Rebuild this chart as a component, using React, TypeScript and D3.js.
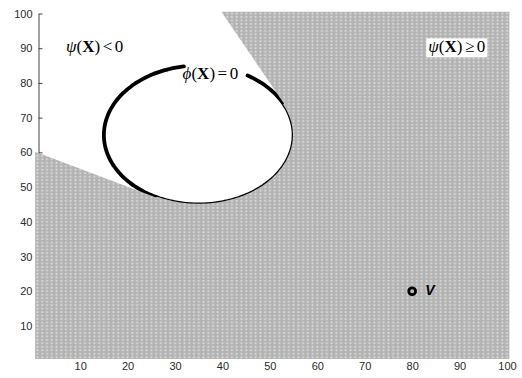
import { useEffect, useRef } from 'react'
import * as d3 from 'd3'

// Axis ticks (MATLAB style, tight [1,100] box)
const X_TICKS = [10, 20, 30, 40, 50, 60, 70, 80, 90, 100]
const Y_TICKS = [10, 20, 30, 40, 50, 60, 70, 80, 90, 100]

// Circular obstacle (phi(X) = 0) in data units
const OBSTACLE_CENTER: [number, number] = [35, 65]
const OBSTACLE_RADIUS = 20
// Contour is open near the top where its label sits (degrees, ccw from +x)
const CONTOUR_START_DEG = 99
const CONTOUR_END_DEG = 59 + 360

// Observer point V
const VIEWPOINT: [number, number] = [80, 20]

// Shadow cone behind the obstacle as seen from V (psi(X) < 0),
// tangent point -> left edge -> top edge -> tangent point (runs a bit past the box)
const SHADOW_POLY: [number, number][] = [
  [26, 47],
  [-1, 61],
  [-1, 103],
  [38.5, 103],
  [53, 74],
]

type MathLabel = { x: number; y: number; fn: string; op: string; boxed: boolean }
const LABELS: MathLabel[] = [
  { x: 7, y: 90.6, fn: 'ψ', op: '<', boxed: false },
  { x: 31.6, y: 82.6, fn: 'ϕ', op: '=', boxed: false },
  { x: 83.4, y: 90.4, fn: 'ψ', op: '≥', boxed: true },
]

const W = 522
const H = 378
const GRAY = '#b3b3b3'
const GRAY_DOT = '#d9d9d9'
const AXIS_INK = '#2a2a2a'

export default function App() {
  const svgRef = useRef<SVGSVGElement>(null)

  useEffect(() => {
    if (!svgRef.current) return

    const x = d3.scaleLinear().domain([1, 100]).range([37.5, 507])
    const y = d3.scaleLinear().domain([1, 100]).range([357.2, 13.5])
    const xStep = x(2) - x(1)
    const yStep = y(1) - y(2)

    d3.select(svgRef.current).selectAll('*').remove()
    const svg = d3.select(svgRef.current).attr('width', W).attr('height', H)

    const defs = svg.append('defs')

    // ---- Marker texture: one cell per integer grid point ----
    const pat = defs
      .append('pattern')
      .attr('id', 'grid-markers')
      .attr('patternUnits', 'userSpaceOnUse')
      .attr('x', x(1) - xStep / 2)
      .attr('y', y(100) - yStep / 2)
      .attr('width', xStep)
      .attr('height', yStep)
    pat.append('rect').attr('width', xStep).attr('height', yStep).attr('fill', GRAY)
    pat
      .append('circle')
      .attr('cx', xStep / 2)
      .attr('cy', yStep / 2)
      .attr('r', 1.05)
      .attr('fill', GRAY_DOT)

    // ---- Mask: everything except shadow cone and obstacle interior ----
    const mask = defs.append('mask').attr('id', 'visible-mask')
    mask.append('rect').attr('width', W).attr('height', H).attr('fill', '#fff')
    mask
      .append('path')
      .attr('d', d3.line<[number, number]>().x((d) => x(d[0])).y((d) => y(d[1]))(SHADOW_POLY) + 'Z')
      .attr('fill', '#000')
    mask
      .append('ellipse')
      .attr('cx', x(OBSTACLE_CENTER[0]))
      .attr('cy', y(OBSTACLE_CENTER[1]))
      .attr('rx', OBSTACLE_RADIUS * xStep - 0.6)
      .attr('ry', OBSTACLE_RADIUS * yStep - 0.6)
      .attr('fill', '#000')

    // ---- Axes (drawn under the markers, like the original) ----
    const font = '"Liberation Sans", Arial, sans-serif'
    const yAxis = svg
      .append('g')
      .attr('transform', `translate(${x(1) + 1},0)`)
      .call(d3.axisLeft(y).tickValues(Y_TICKS).tickSizeInner(-4).tickSizeOuter(0).tickPadding(6))
    yAxis.select('.domain').attr('stroke', '#444')
    yAxis.selectAll('line').attr('stroke', '#444')
    yAxis.selectAll('text').attr('font-family', font).attr('font-size', '11px').attr('fill', AXIS_INK)

    const xAxis = svg
      .append('g')
      .attr('transform', `translate(0,${y(1)})`)
      .call(d3.axisBottom(x).tickValues(X_TICKS).tickSizeInner(-4).tickSizeOuter(0).tickPadding(5))
    xAxis.select('.domain').attr('stroke', '#444')
    xAxis.selectAll('line').attr('stroke', '#444')
    xAxis.selectAll('text').attr('font-family', font).attr('font-size', '11px').attr('fill', AXIS_INK)

    // ---- Obstacle contour phi(X) = 0 ----
    const angles = d3.range(CONTOUR_START_DEG, CONTOUR_END_DEG + 0.5, 2)
    const arcPts: [number, number][] = angles.map((a) => {
      const t = (a * Math.PI) / 180
      return [OBSTACLE_CENTER[0] + OBSTACLE_RADIUS * Math.cos(t), OBSTACLE_CENTER[1] + OBSTACLE_RADIUS * Math.sin(t)]
    })
    svg
      .append('path')
      .attr('d', d3.line<[number, number]>().x((d) => x(d[0])).y((d) => y(d[1])).curve(d3.curveCatmullRom)(arcPts))
      .attr('fill', 'none')
      .attr('stroke', '#000')
      .attr('stroke-width', 3.8)
      .attr('stroke-linecap', 'round')

    // ---- Grid markers where psi(X) >= 0 ----
    svg
      .append('rect')
      .attr('x', x(1) - xStep / 2)
      .attr('y', y(100) - yStep / 2)
      .attr('width', x(100) - x(1) + xStep)
      .attr('height', y(1) - y(100) + yStep)
      .attr('fill', 'url(#grid-markers)')
      .attr('mask', 'url(#visible-mask)')

    // ---- Viewpoint V ----
    svg
      .append('circle')
      .attr('cx', x(VIEWPOINT[0]))
      .attr('cy', y(VIEWPOINT[1]))
      .attr('r', 3.4)
      .attr('fill', '#bdbdbd')
      .attr('stroke', '#000')
      .attr('stroke-width', 2.8)
    svg
      .append('text')
      .attr('x', x(VIEWPOINT[0]) + 13)
      .attr('y', y(VIEWPOINT[1]) + 4)
      .attr('font-family', font)
      .attr('font-size', '14px')
      .attr('font-weight', 'bold')
      .attr('font-style', 'italic')
      .attr('fill', '#000')
      .text('V')

    // ---- Math labels ----
    const serif = '"Liberation Serif", "Times New Roman", serif'
    LABELS.forEach((l) => {
      const g = svg.append('g')
      const t = g
        .append('text')
        .attr('x', x(l.x))
        .attr('y', y(l.y) + 5.5)
        .attr('font-family', serif)
        .attr('font-size', '17px')
        .attr('fill', '#000')
      t.append('tspan').attr('font-style', 'italic').text(l.fn)
      t.append('tspan').text('(')
      t.append('tspan').attr('font-weight', 'bold').text('X')
      t.append('tspan').text(')')
      t.append('tspan').attr('dx', 2.5).text(l.op)
      t.append('tspan').attr('dx', 2.5).text('0')
      if (l.boxed) {
        const bb = (t.node() as SVGTextElement).getBBox()
        g.insert('rect', 'text')
          .attr('x', bb.x - 2)
          .attr('y', bb.y + 1)
          .attr('width', bb.width + 4)
          .attr('height', bb.height)
          .attr('fill', '#fff')
      }
    })
  }, [])

  return (
    <div style={{ position: 'absolute', left: 0, top: 0, width: W, height: H, background: '#fff' }}>
      <svg ref={svgRef} style={{ display: 'block' }} />
    </div>
  )
}
